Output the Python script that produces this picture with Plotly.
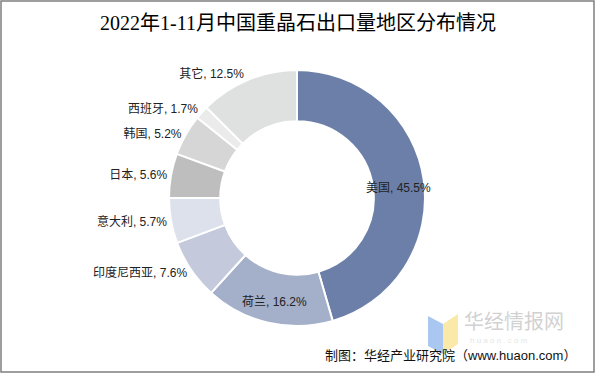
import math
import plotly.graph_objects as go

title_text = "2022年1-11月中国重晶石出口量地区分布情况"
regions = ["美国", "荷兰", "印度尼西亚", "意大利", "日本", "韩国", "西班牙", "其它"]
shares = [45.5, 16.2, 7.6, 5.7, 5.6, 5.2, 1.7, 12.5]
colors = ["#6B7FA8", "#A4AFC9", "#C4CADB", "#DDE1EC", "#BEBEBE", "#D6D6D6", "#EBEBEB", "#DFE1E0"]
text_pos = ["none", "none", "outside", "outside", "outside", "outside", "outside", "outside"]
source_text = "制图：华经产业研究院（www.huaon.com）"

W, H = 595, 373
cjk = "Noto Sans CJK SC"
label_font = dict(family="Arial, " + cjk, size=12, color="#222222")

# pie geometry (pixels)
cx, cy, r_out = 297, 198, 128
hole = 0.6
dom_y = [1 - (cy + r_out) / H, 1 - (cy - r_out) / H]
dom_x = [(cx - r_out) / W, (cx + r_out) / W]

fig = go.Figure()
fig.add_trace(go.Pie(
    labels=regions,
    values=shares,
    sort=False,
    direction="clockwise",
    rotation=0,
    hole=hole,
    marker=dict(colors=colors, line=dict(color="white", width=2)),
    texttemplate="%{label}, %{value:.1f}%",
    textposition=text_pos,
    textfont=label_font,
    outsidetextfont=label_font,
    domain=dict(x=dom_x, y=dom_y),
    showlegend=False,
    automargin=False,
    hoverinfo="label+percent",
))

# labels drawn inside the ring for slices with textposition "none", at the slice's mid angle
annotations = []
total = sum(shares)
cum = 0.0
r_mid = r_out * (1 + hole) / 2
for name, v, pos in zip(regions, shares, text_pos):
    mid = (cum + v / 2) / total * 2 * math.pi
    cum += v
    if pos != "none":
        continue
    px = cx + r_mid * math.sin(mid)
    py = cy - r_mid * math.cos(mid) + 4
    annotations.append(dict(text=f"{name}, {v:.1f}%", x=px / W, y=1 - py / H,
                            xref="paper", yref="paper", xanchor="center", yanchor="middle",
                            showarrow=False, font=label_font))

annotations += [
    dict(text=title_text, x=0.5, y=1 - 23 / H, xref="paper", yref="paper",
         xanchor="center", yanchor="middle", showarrow=False,
         font=dict(family="Liberation Serif, " + cjk, size=20, color="#000000")),
    dict(text="华经情报网", x=462 / W, y=1 - 320 / H, xref="paper", yref="paper",
         xanchor="left", yanchor="middle", showarrow=False,
         font=dict(family=cjk, size=20, color="rgba(170,170,170,0.55)")),
    dict(text="h u a o n . c o m", x=468 / W, y=1 - 340 / H, xref="paper", yref="paper",
         xanchor="left", yanchor="middle", showarrow=False,
         font=dict(family="Arial", size=8, color="rgba(200,200,200,0.5)")),
    dict(text=source_text, x=578 / W, y=1 - 355 / H, xref="paper", yref="paper",
         xanchor="right", yanchor="middle", showarrow=False,
         font=dict(family="Arial, " + cjk, size=13, color="#111111")),
]

fig.update_layout(
    width=W, height=H,
    margin=dict(l=0, r=0, t=0, b=0, autoexpand=False),
    paper_bgcolor="white",
    plot_bgcolor="white",
    annotations=annotations,
    shapes=[
        dict(type="rect", xref="paper", yref="paper", x0=1 / W, x1=1 - 1 / W,
             y0=1 / H, y1=1 - 1 / H, line=dict(color="#7F7F7F", width=1.5)),
        dict(type="path", xref="paper", yref="paper",
             path=f"M {428/W},{1-316/H} L {443/W},{1-324/H} L {443/W},{1-354/H} L {428/W},{1-346/H} Z",
             fillcolor="rgba(140,180,235,0.75)", line=dict(width=0)),
        dict(type="path", xref="paper", yref="paper",
             path=f"M {443/W},{1-324/H} L {458/W},{1-314/H} L {458/W},{1-344/H} L {443/W},{1-354/H} Z",
             fillcolor="rgba(250,225,140,0.75)", line=dict(width=0)),
    ],
)

fig.write_html("out.html", config={"displayModeBar": False},
               post_script="document.body.style.margin='0px';document.body.style.overflow='hidden';")
